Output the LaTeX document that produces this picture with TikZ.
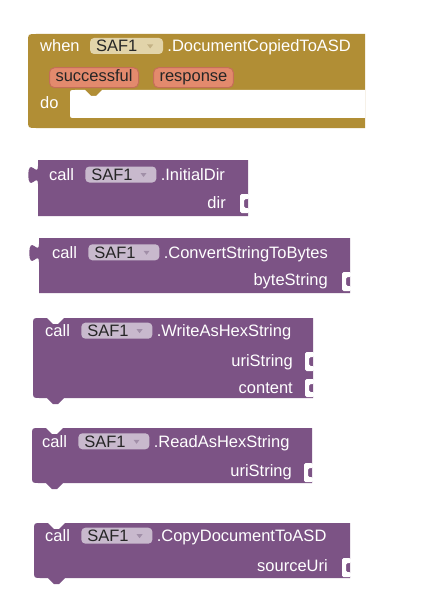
\documentclass[tikz,border=0pt]{standalone}
\usepackage{fontspec}
\setmainfont{Liberation Sans}
\usetikzlibrary{positioning}
\definecolor{evgold}{HTML}{B18E35}
\definecolor{mpurple}{HTML}{7C5385}
\definecolor{fldgold}{HTML}{E2D4AA}
\definecolor{fldpurple}{HTML}{C8B9CD}
\definecolor{arrgold}{HTML}{C4B285}
\definecolor{arrpurple}{HTML}{A18FA8}
\definecolor{pillfill}{HTML}{E38A6D}
\definecolor{pillline}{HTML}{C46E58}
\begin{document}
\begin{tikzpicture}[x=1pt, y=-1pt, font=\fontsize{16.5}{20}\selectfont,
  lbl/.style={text=white, inner sep=0pt},
  fld/.style={fill=fldpurple, rounded corners=4pt, text=black!85, inner xsep=6pt, inner ysep=0pt,
    text width=59pt, align=left, text height=12pt, text depth=0pt, minimum height=16pt},
  pill/.style={fill=pillfill, draw=pillline, line width=1pt, rounded corners=5pt, text=black!85,
    inner xsep=6pt, inner ysep=0pt, text height=12pt, text depth=4pt, minimum height=20pt},
  sock/.style={fill=white, rounded corners=1.5pt}]
   %Hintergrund
   \fill[white] (0,0) rectangle (430,615);
   \useasboundingbox (0,0) rectangle (430,615);

%Ereignis
\fill[evgold] (28,42) .. controls (28,34) .. (36,34) -- (365,34) -- (365,128) -- (36,128) .. controls (28,128) .. (28,120) -- cycle;
\fill[white] (365,90) -- (102,90) -- (96,96) -- (91,96) -- (85,90) -- (75,90) .. controls (70,90) .. (70,95) -- (70,113) .. controls (70,118) .. (75,118) -- (365,118) -- cycle;
\coordinate(w1) at (40,52);
\coordinate(s1) at (49,81.7);
\coordinate(d1) at (40,109);
\node[lbl, anchor=base west] (when) at (w1) {when};
\node[fld, fill=fldgold, text width=61pt, base right=10pt of when] (f1) {SAF1};
\fill[arrgold] ([xshift=-16pt,yshift=1.5pt]f1.east) -- ++(6,0) -- ++(-3,4) -- cycle;
\node[lbl, base right=4pt of f1] (m1) {.DocumentCopiedToASD};
\node[pill, anchor=base west] (p1) at (s1) {successful};
\node[pill, base right=14pt of p1] (p2) {response};
\node[lbl, anchor=base west] (do) at (d1) {do};

%InitialDir
\fill[mpurple] (38,160) -- (248,160) -- (248,216) -- (38,216) -- (38,184) .. controls +(0,-12) and +(0,18.6) .. (28.4,175) .. controls +(0,-18.6) and +(0,12) .. (38,166) -- cycle;
\fill[sock] (249,194) -- ++(-9,0) -- ++(0,19) -- ++(9,0) -- ++(0,-5) -- ++(-5,0) -- ++(0,-9) -- ++(5,0) -- cycle;
\coordinate(c2) at (49,180.5);
\coordinate(i2) at (226,208.3);
\node[lbl, anchor=base west] (call2) at (c2) {call};
\node[fld, base right=11pt of call2] (f2) {SAF1};
\fill[arrpurple] ([xshift=-16pt,yshift=1.5pt]f2.east) -- ++(6,0) -- ++(-3,4) -- cycle;
\node[lbl, base right=4pt of f2] (m2) {.InitialDir};
\node[lbl, anchor=base east] (dir) at (i2) {dir};

%ConvertStringToBytes
\fill[mpurple] (39,238) -- (350,238) -- (350,293) -- (39,293) -- (39,262) .. controls +(0,-12) and +(0,18.6) .. (29.4,253) .. controls +(0,-18.6) and +(0,12) .. (39,244) -- cycle;
\fill[sock] (351,272) -- ++(-9,0) -- ++(0,19) -- ++(9,0) -- ++(0,-5) -- ++(-5,0) -- ++(0,-9) -- ++(5,0) -- cycle;
\coordinate(c3) at (52,258.3);
\coordinate(i3) at (328,285);
\node[lbl, anchor=base west] (call3) at (c3) {call};
\node[fld, base right=11pt of call3] (f3) {SAF1};
\fill[arrpurple] ([xshift=-16pt,yshift=1.5pt]f3.east) -- ++(6,0) -- ++(-3,4) -- cycle;
\node[lbl, base right=4pt of f3] (m3) {.ConvertStringToBytes};
\node[lbl, anchor=base east] (bytes) at (i3) {byteString};

%WriteAsHexString
\fill[mpurple] (33,325) .. controls (33,318) .. (40,318) -- (47,318) -- (53,324) -- (58,324) -- (64,318) -- (313,318) -- (313,398) -- (64,398) -- (58,404) -- (53,404) -- (47,398) -- (40,398) .. controls (33,398) .. (33,391) -- cycle;
\fill[sock] (314,352) -- ++(-9,0) -- ++(0,19) -- ++(9,0) -- ++(0,-5) -- ++(-5,0) -- ++(0,-9) -- ++(5,0) -- cycle;
\fill[sock] (314,379) -- ++(-9,0) -- ++(0,18) -- ++(9,0) -- ++(0,-5) -- ++(-5,0) -- ++(0,-8) -- ++(5,0) -- cycle;
\coordinate(c4) at (45,336.7);
\coordinate(i4) at (293,366);
\coordinate(j4) at (293,393.3);
\node[lbl, anchor=base west] (call4) at (c4) {call};
\node[fld, base right=11pt of call4] (f4) {SAF1};
\fill[arrpurple] ([xshift=-16pt,yshift=1.5pt]f4.east) -- ++(6,0) -- ++(-3,4) -- cycle;
\node[lbl, base right=4pt of f4] (m4) {.WriteAsHexString};
\node[lbl, anchor=base east] (uri4) at (i4) {uriString};
\node[lbl, anchor=base east] (cont) at (j4) {content};

%ReadAsHexString
\fill[mpurple] (32,435) .. controls (32,428) .. (39,428) -- (46,428) -- (52,434) -- (57,434) -- (63,428) -- (312,428) -- (312,483) -- (63,483) -- (57,489) -- (52,489) -- (46,483) -- (39,483) .. controls (32,483) .. (32,476) -- cycle;
\fill[sock] (313,463) -- ++(-9,0) -- ++(0,19) -- ++(9,0) -- ++(0,-5) -- ++(-5,0) -- ++(0,-9) -- ++(5,0) -- cycle;
\coordinate(c5) at (42,447.3);
\coordinate(i5) at (292,476.7);
\node[lbl, anchor=base west] (call5) at (c5) {call};
\node[fld, base right=11pt of call5] (f5) {SAF1};
\fill[arrpurple] ([xshift=-16pt,yshift=1.5pt]f5.east) -- ++(6,0) -- ++(-3,4) -- cycle;
\node[lbl, base right=4pt of f5] (m5) {.ReadAsHexString};
\node[lbl, anchor=base east] (uri5) at (i5) {uriString};

%CopyDocumentToASD
\fill[mpurple] (34,530) .. controls (34,523) .. (41,523) -- (48,523) -- (54,529) -- (59,529) -- (65,523) -- (350,523) -- (350,578) -- (65,578) -- (59,584) -- (54,584) -- (48,578) -- (41,578) .. controls (34,578) .. (34,571) -- cycle;
\fill[sock] (351,558) -- ++(-9,0) -- ++(0,19) -- ++(9,0) -- ++(0,-5) -- ++(-5,0) -- ++(0,-9) -- ++(5,0) -- cycle;
\coordinate(c6) at (45,541.7);
\coordinate(i6) at (328,571.7);
\node[lbl, anchor=base west] (call6) at (c6) {call};
\node[fld, base right=11pt of call6] (f6) {SAF1};
\fill[arrpurple] ([xshift=-16pt,yshift=1.5pt]f6.east) -- ++(6,0) -- ++(-3,4) -- cycle;
\node[lbl, base right=4pt of f6] (m6) {.CopyDocumentToASD};
\node[lbl, anchor=base east] (src) at (i6) {sourceUri};
\end{tikzpicture}
\end{document}
